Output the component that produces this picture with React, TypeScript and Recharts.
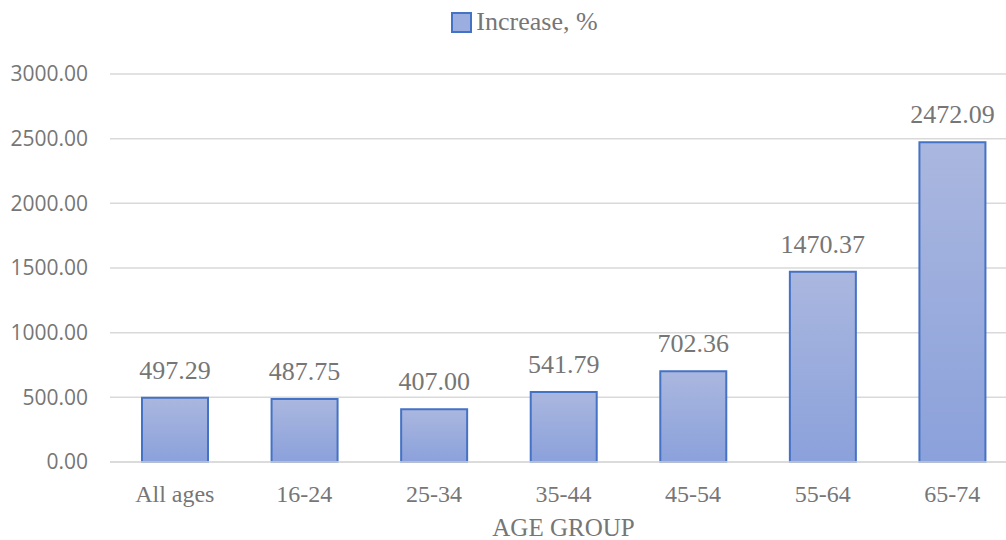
import { BarChart, Bar, XAxis, YAxis, CartesianGrid, Legend, LabelList } from 'recharts';

const ageGroups = ['All ages', '16-24', '25-34', '35-44', '45-54', '55-64', '65-74'];
const increasePct = [497.29, 487.75, 407.0, 541.79, 702.36, 1470.37, 2472.09];
const yTicks = [0, 500, 1000, 1500, 2000, 2500, 3000];

const data = ageGroups.map((group, i) => ({ group, increase: increasePct[i] }));

const textColor = '#767676';
const serif = '"Liberation Serif", "Times New Roman", serif';

function LegendContent() {
  return (
    <div
      style={{
        display: 'flex',
        justifyContent: 'center',
        alignItems: 'center',
        height: 28,
        marginLeft: 32,
        fontFamily: serif,
        fontSize: 26,
        color: textColor,
      }}
    >
      <span
        style={{
          display: 'inline-block',
          width: 17,
          height: 17,
          background: '#9caedf',
          border: '2px solid #4472c4',
          marginRight: 4,
        }}
      />
      Increase, %
    </div>
  );
}

export default function App() {
  return (
    <div style={{ position: 'absolute', left: 0, top: 0, width: 1006, height: 540, overflow: 'hidden', background: '#fff' }}>
      {/* plot area runs a little past the right edge */}
      <BarChart
        width={1006}
        height={540}
        data={data}
        margin={{ top: 46, right: -11, bottom: 0, left: 0 }}
      >
        <defs>
          <linearGradient id="barFill" x1="0" y1="0" x2="0" y2="1">
            <stop offset="0%" stopColor="#aab7df" />
            <stop offset="100%" stopColor="#8ba1db" />
          </linearGradient>
        </defs>
        <CartesianGrid vertical={false} stroke="#d9d9d9" strokeWidth={1.5} />
        <XAxis
          dataKey="group"
          axisLine={{ stroke: '#d9d9d9', strokeWidth: 1.5 }}
          tickLine={false}
          tickSize={0}
          tickMargin={23}
          height={78}
          tick={{ fill: textColor, fontSize: 24, fontFamily: serif }}
          label={{
            value: 'AGE GROUP',
            position: 'insideBottom',
            offset: 4,
            fill: textColor,
            fontSize: 25,
            fontFamily: serif,
          }}
        />
        <YAxis
          domain={[0, 3000]}
          ticks={yTicks}
          width={110}
          axisLine={false}
          tickLine={false}
          tickSize={0}
          tickMargin={22}
          tickFormatter={(v: number) => v.toFixed(2)}
          tick={{ fill: textColor, fontSize: 21, fontFamily: '"Open Sans", sans-serif' }}
        />
        <Legend verticalAlign="top" align="center" content={<LegendContent />} wrapperStyle={{ top: 8 }} />
        <Bar
          dataKey="increase"
          name="Increase, %"
          fill="url(#barFill)"
          stroke="#4472c4"
          strokeWidth={2}
          barSize={66}
          isAnimationActive={false}
        >
          <LabelList
            dataKey="increase"
            position="top"
            offset={19}
            formatter={(v: number) => v.toFixed(2)}
            fill={textColor}
            fontSize={26}
            fontFamily={serif}
          />
        </Bar>
      </BarChart>
    </div>
  );
}
